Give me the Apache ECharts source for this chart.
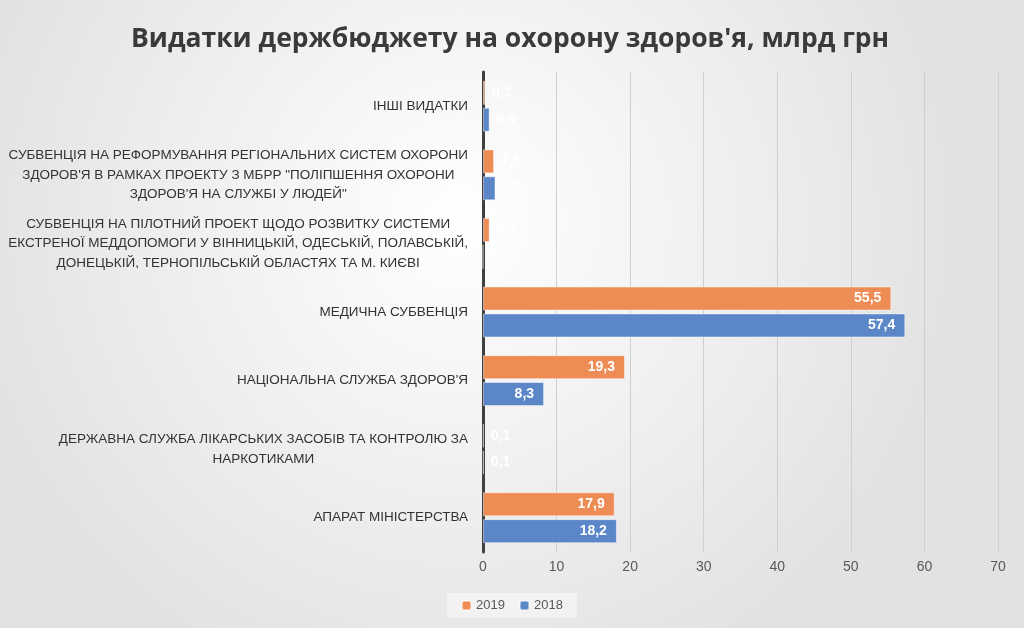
<!DOCTYPE html>
<html>
<head>
<meta charset="utf-8">
<script src="https://cdn.jsdelivr.net/npm/echarts@6/dist/echarts.min.js"></script>
<style>html,body{margin:0;padding:0;}#c{width:1024px;height:628px;}</style>
</head>
<body>
<div id="c"></div>
<script>
const categories = [
  'АПАРАТ МІНІСТЕРСТВА',
  'ДЕРЖАВНА СЛУЖБА ЛІКАРСЬКИХ ЗАСОБІВ ТА КОНТРОЛЮ ЗА\nНАРКОТИКАМИ',
  "НАЦІОНАЛЬНА СЛУЖБА ЗДОРОВ'Я",
  'МЕДИЧНА СУБВЕНЦІЯ',
  'СУБВЕНЦІЯ НА ПІЛОТНИЙ ПРОЕКТ ЩОДО РОЗВИТКУ СИСТЕМИ\nЕКСТРЕНОЇ МЕДДОПОМОГИ У ВІННИЦЬКІЙ, ОДЕСЬКІЙ, ПОЛАВСЬКІЙ,\nДОНЕЦЬКІЙ, ТЕРНОПІЛЬСЬКІЙ ОБЛАСТЯХ ТА М. КИЄВІ',
  "СУБВЕНЦІЯ НА РЕФОРМУВАННЯ РЕГІОНАЛЬНИХ СИСТЕМ ОХОРОНИ\nЗДОРОВ'Я В РАМКАХ ПРОЕКТУ З МБРР \"ПОЛІПШЕННЯ ОХОРОНИ\nЗДОРОВ'Я НА СЛУЖБІ У ЛЮДЕЙ\"",
  'ІНШІ ВИДАТКИ'
];
const values2019 = [17.9, 0.1, 19.3, 55.5, 0.9, 1.5, 0.3];
const values2018 = [18.2, 0.1, 8.3, 57.4, 0, 1.7, 0.9];
const seriesNames = ['2019', '2018'];
const xTicks = [0, 10, 20, 30, 40, 50, 60, 70];

const chart = echarts.init(document.getElementById('c'));
const fmt = v => String(v).replace('.', ',');
function mkData(arr) {
  return arr.map(v => ({
    value: v,
    label: v < 5 ? { position: 'right', distance: 7 } : { position: 'insideRight', distance: 10 }
  }));
}
const labelFont = 'Liberation Sans';
chart.setOption({
  backgroundColor: {
    type: 'radial', x: 0.45, y: 0.35, r: 0.8,
    colorStops: [{ offset: 0, color: '#ffffff' }, { offset: 1, color: '#e2e2e2' }]
  },
  title: {
    text: "Видатки держбюджету на охорону здоров'я, млрд грн",
    left: 126, top: 21,
    textStyle: { fontFamily: 'Open Sans', fontWeight: 'bold', fontSize: 26.5, color: '#3a3a3a' }
  },
  legend: {
    data: seriesNames, bottom: 10, left: 'center',
    itemWidth: 9, itemHeight: 9, itemGap: 14,
    backgroundColor: 'rgba(255,255,255,0.45)', padding: [6, 14],
    textStyle: { fontFamily: labelFont, fontSize: 13, color: '#595959' }
  },
  grid: { left: 483, right: 26, top: 72, bottom: 76, containLabel: false },
  xAxis: {
    type: 'value', min: xTicks[0], max: xTicks[xTicks.length - 1], interval: 10,
    axisLine: { show: false }, axisTick: { show: false },
    splitLine: { lineStyle: { color: '#cfcfcf', width: 1 } },
    axisLabel: { fontFamily: labelFont, fontSize: 14, color: '#595959', margin: 8 }
  },
  yAxis: {
    type: 'category', data: categories,
    axisLine: { lineStyle: { color: '#404040', width: 3 } },
    axisTick: { show: false },
    axisLabel: {
      fontFamily: labelFont, fontSize: 13.5, color: '#333333', margin: 15, lineHeight: 19.5,
      formatter: v => v.split('\n').map(l => '{c|' + l + '}').join('\n'),
      rich: { c: { align: 'center', fontFamily: labelFont, fontSize: 13.5, color: '#333333', lineHeight: 19.5 } }
    }
  },
  series: [
    {
      name: seriesNames[0], type: 'bar', data: mkData(values2019),
      barWidth: 24, barGap: '12%',
      itemStyle: { color: '#ee8c56', borderColor: 'rgba(255,255,255,0.45)', borderWidth: 1 },
      label: { show: true, color: '#ffffff', fontWeight: 'bold', fontFamily: labelFont, fontSize: 14, formatter: p => fmt(p.value) }
    },
    {
      name: seriesNames[1], type: 'bar', data: mkData(values2018),
      barWidth: 24, barGap: '12%',
      itemStyle: { color: '#5b86c8', borderColor: 'rgba(255,255,255,0.45)', borderWidth: 1 },
      label: { show: true, color: '#ffffff', fontWeight: 'bold', fontFamily: labelFont, fontSize: 14, formatter: p => fmt(p.value) }
    }
  ]
});
</script>
</body>
</html>
